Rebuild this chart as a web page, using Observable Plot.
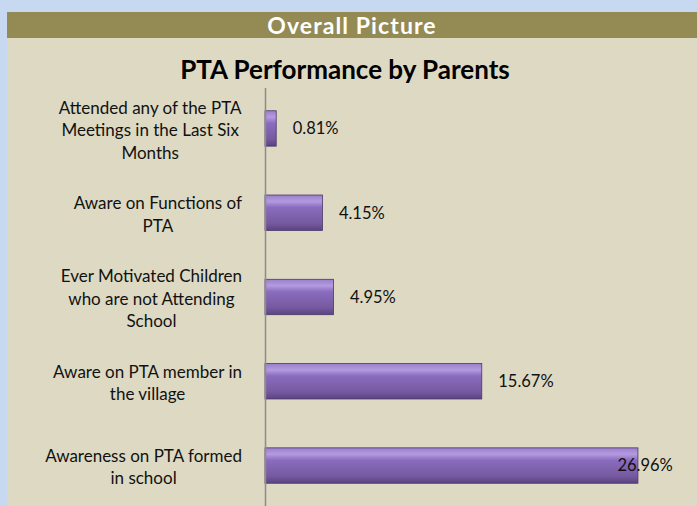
<!DOCTYPE html>
<html>
<head>
<meta charset="utf-8">
<script src="https://cdn.jsdelivr.net/npm/d3@7"></script>
<script src="https://cdn.jsdelivr.net/npm/@observablehq/plot@0.6"></script>
<style>
  html, body { margin: 0; padding: 0; background: #c6d9f1; width: 697px; height: 506px; overflow: hidden; }
  #panel { position: absolute; left: 7px; top: 12px; width: 690px; height: 494px; background: #ddd9c3; }
  #band { height: 26px; background: #948a54; color: #fff; font: bold 23px Lato, "Open Sans", sans-serif; letter-spacing: 1.1px; text-align: center; line-height: 27px; }
  #title { height: 50px; font: bold 26px Lato, "Open Sans", sans-serif; color: #000; text-align: center; line-height: 62px; padding-right: 14px; box-sizing: border-box; }
  #chart svg { display: block; overflow: visible; }
</style>
</head>
<body>
<div id="panel">
  <div id="band">Overall Picture</div>
  <div id="title">PTA Performance by Parents</div>
  <div id="chart"></div>
</div>
<script>
const categories = [
  "Attended any of the PTA\nMeetings in the Last Six\nMonths",
  "Aware on Functions of\nPTA",
  "Ever Motivated Children\nwho are not Attending\nSchool",
  "Aware on PTA member in\nthe village",
  "Awareness on PTA formed\nin school"
];
const values = [0.81, 4.15, 4.95, 15.67, 26.96];
const valueLabels = ["0.81%", "4.15%", "4.95%", "15.67%", "26.96%"];

const data = categories.map((c, i) => ({category: c, value: values[i], label: valueLabels[i]}));
const maxV = d3.max(values);

const font = "Lato, 'Open Sans', sans-serif";

const chart = Plot.plot({
  width: 690,
  height: 418,
  marginLeft: 258,
  marginRight: 17,
  marginTop: 0,
  marginBottom: 0,
  style: {background: "transparent", fontFamily: font, fontSize: "16px", color: "#111"},
  x: {domain: [0, 30], axis: null},
  y: {domain: categories, axis: null, paddingInner: 0.58, paddingOuter: 0.27, round: false},
  marks: [
    Plot.barX(data, {y: "category", x: "value", fill: "url(#barGrad)", stroke: "#4a3768", strokeWidth: 0.8, style: "filter: drop-shadow(2px 3px 2px rgba(0,0,0,0.35))"}),
    Plot.text(data, {y: "category", text: "category", frameAnchor: "left", dx: -116, textAnchor: "middle", lineHeight: 1.32, fill: "#111", fontSize: 17}),
    Plot.text(data.filter(d => d.value < maxV), {y: "category", x: "value", text: "label", dx: 16, textAnchor: "start", fill: "#111", fontSize: 16.5}),
    Plot.text(data.filter(d => d.value === maxV), {y: "category", x: "value", text: "label", dx: -21, textAnchor: "start", fill: "#111", fontSize: 16.5}),
    Plot.ruleX([0], {stroke: "#8c8c8c", strokeWidth: 1.5})
  ]
});

const svg = d3.select(chart);
const defs = svg.insert("defs", ":first-child");
const g = defs.append("linearGradient").attr("id", "barGrad").attr("x1", 0).attr("y1", 0).attr("x2", 0).attr("y2", 1);
g.append("stop").attr("offset", "0%").attr("stop-color", "#9a7fca");
g.append("stop").attr("offset", "18%").attr("stop-color", "#b39be0");
g.append("stop").attr("offset", "35%").attr("stop-color", "#8a6cbf");
g.append("stop").attr("offset", "80%").attr("stop-color", "#76599f");
g.append("stop").attr("offset", "100%").attr("stop-color", "#5a4480");

document.getElementById("chart").appendChild(chart);

// Excel-style: each wrapped label block is right-aligned (lines centred within the block)
const svgRect = chart.getBoundingClientRect();
const rightEdge = 235; // in svg coordinates, just left of the axis
const labelGroup = chart.querySelectorAll('g[aria-label="text"]')[0];
d3.select(labelGroup).selectAll("text").each(function () {
  const r = this.getBoundingClientRect();
  const shift = rightEdge - (r.right - svgRect.left);
  const t = this.getAttribute("transform") || "";
  this.setAttribute("transform", `translate(${shift},0) ${t}`);
});
</script>
</body>
</html>
